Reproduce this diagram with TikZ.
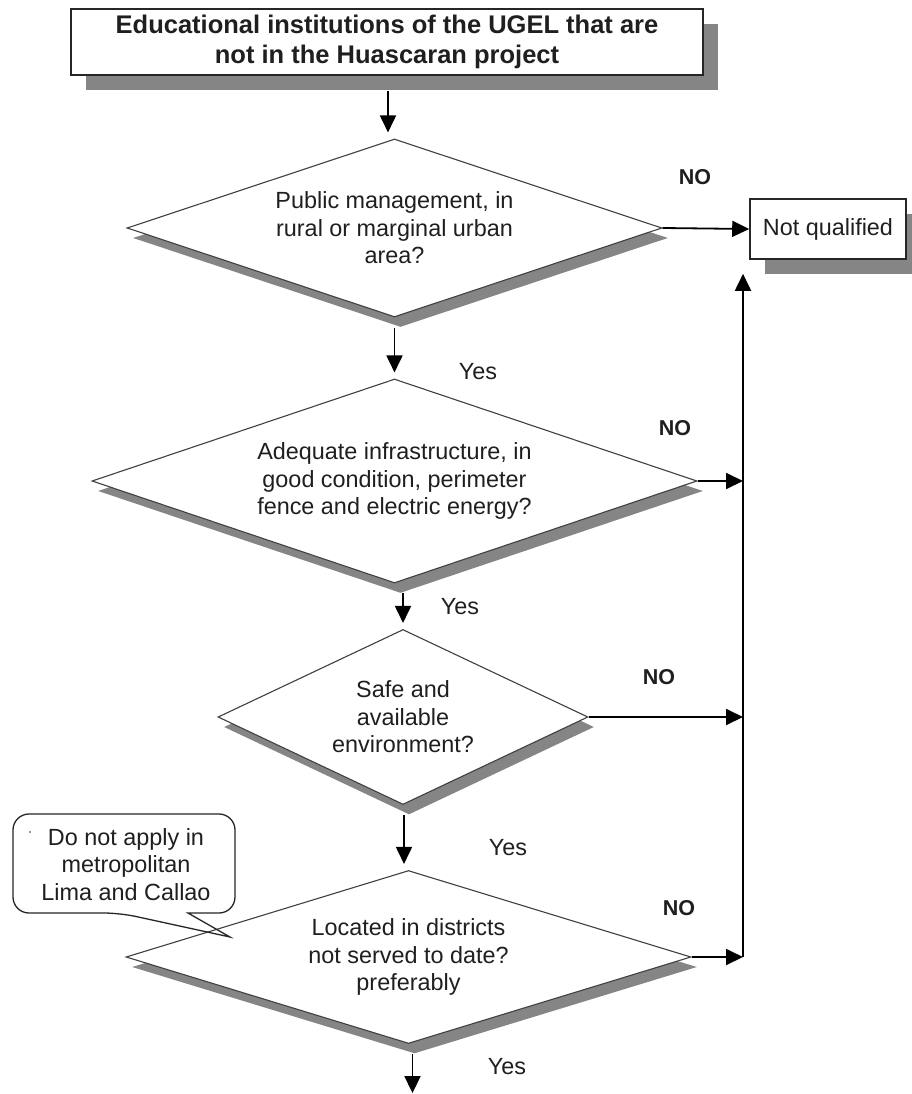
\documentclass[tikz,border=0pt]{standalone}
\usepackage{fontspec}
\setmainfont{Liberation Sans}
\usetikzlibrary{shapes.geometric,shadows,arrows.meta,calc}
\newcommand\mytxt{\fontsize{23.4pt}{27.5pt}\selectfont}
\newcommand\myttl{\fontsize{25.5pt}{30pt}\selectfont\bfseries}
\newcommand\myno{\fontsize{21.5pt}{24pt}\selectfont\bfseries}
\begin{document}
\begin{tikzpicture}[x=1pt,y=-1pt,
  every node/.style={text=black!88},
  dia/.style={diamond, draw=black!75, line width=1.1pt, fill=white, inner sep=0pt,
    align=center, font=\mytxt,
    drop shadow={shadow xshift=6pt,shadow yshift=-10pt,fill=black!48,opacity=1}},
  boxnode/.style={rectangle, draw=black!85, line width=1.6pt, fill=white, inner sep=0pt,
    align=center,
    drop shadow={shadow xshift=15pt,shadow yshift=-15pt,fill=black!48,opacity=1}},
  arr/.style={line width=1.8pt, draw=black, -{Triangle[length=17pt,width=16pt]}},
  yeslbl/.style={font=\mytxt, inner sep=0pt},
  nolbl/.style={font=\myno, inner sep=0pt},
  calltext/.style={font=\mytxt, align=center, inner sep=0pt},
  callline/.style={line width=1.3pt, draw=black!85}
]
\useasboundingbox (0,0) rectangle (912,1094);
\fill[white] (0,0) rectangle (912,1094);

% boxes
\node[boxnode, font=\myttl, minimum width=632pt, minimum height=66pt] (title) at (387,42)
  {Educational institutions of the UGEL that are\\not in the Huascaran project};
\node[boxnode, font=\mytxt, minimum width=156pt, minimum height=60pt] (nq) at (828,229)
  {Not qualified};

% diamonds
\node[dia, aspect=3.0, minimum width=535pt, minimum height=178pt] (d1) at (394.5,228)
  {Public management, in\\rural or marginal urban\\area?};
\node[dia, aspect=2.94, minimum width=605pt, minimum height=204pt] (d2) at (394.5,481)
  {Adequate infrastructure, in\\good condition, perimeter\\fence and electric energy?};
\node[dia, aspect=2.1, minimum width=370pt, minimum height=175pt] (d3) at (403,717)
  {Safe and\\available\\environment?};
\node[dia, aspect=3.27, minimum width=565pt, minimum height=173pt] (d4) at (408.5,957)
  {Located in districts\\not served to date?\\preferably};

% vertical collector
\coordinate (vx) at (743,0);

% down arrows
\draw[arr] ($(title.south)+(1pt,-15pt)$) -- ($(d1.north -| title.south)+(1pt,6pt)$);
\draw[arr] ($(d1.south)+(0,-10pt)$) -- ($(d2.north)+(0,6pt)$);
\draw[arr] ($(d2.south -| d3.north)+(0,-9pt)$) -- ($(d3.north)+(0,6pt)$);
\draw[arr] ($(d3.south)+(1pt,-10pt)$) -- ($(d4.north -| d3.south)+(1pt,6pt)$);
\coordinate (bottomend) at ($(d4.south)+(4pt,-49pt)$);
\draw[arr] ($(d4.south)+(4pt,-10pt)$) -- (bottomend);

% NO arrows
\draw[arr] (d1.east) -- (nq.west);
\draw[arr] (d2.east) -- (d2.east -| vx);
\draw[arr] (d3.east) -- (d3.east -| vx);
\draw[arr] (d4.east) -- (d4.east -| vx);
\draw[arr] (d4.east -| vx) -- ($(nq.south -| vx)+(0,-14pt)$);

% labels
\node[nolbl] (n1) at (695,177) {NO};
\node[nolbl] (n2) at (675,428) {NO};
\node[nolbl] (n3) at (659,677) {NO};
\node[nolbl] (n4) at (679,908) {NO};
\node[yeslbl] (y1) at (478,372) {Yes};
\node[yeslbl] (y2) at (460,607) {Yes};
\node[yeslbl] (y3) at (508,848) {Yes};
\node[yeslbl] (y4) at (507,1067) {Yes};

% callout
\node[calltext] (call) at (126,864.5) {Do not apply in\\metropolitan\\Lima and Callao};
\draw[callline] (188,913) [rounded corners=16pt] -- (235,913) -- (235,814) -- (13,814)
  -- (13,913) -- (120,913) [sharp corners] -- (230,937) -- cycle;
\fill[black!55] (30,832) circle (1.2pt);
\end{tikzpicture}
\end{document}
